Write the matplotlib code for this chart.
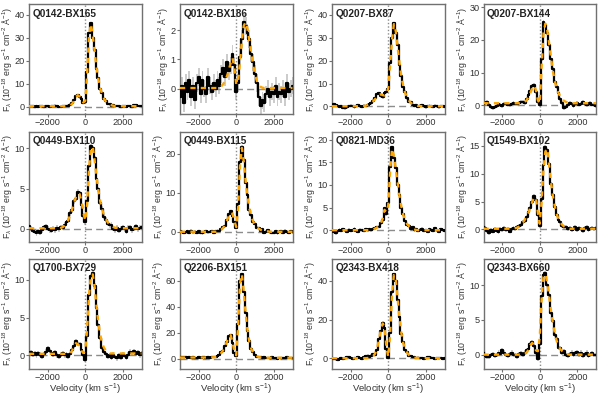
import matplotlib
matplotlib.use("Agg")
import matplotlib.pyplot as plt
import numpy as np

plt.rcParams['font.family'] = ['Liberation Sans', 'DejaVu Sans']
plt.rcParams['mathtext.fontset'] = 'custom'
plt.rcParams['mathtext.rm'] = 'Liberation Sans'
plt.rcParams['mathtext.it'] = 'Liberation Sans:italic'
plt.rcParams['mathtext.bf'] = 'Liberation Sans:bold'

# velocity grid (km/s)
velocity = list(range(-3000, 3001, 100))

names = ["Q0142-BX165", "Q0142-BX186", "Q0207-BX87", "Q0207-BX144",
         "Q0449-BX110", "Q0449-BX115", "Q0821-MD36", "Q1549-BX102",
         "Q1700-BX729", "Q2206-BX151", "Q2343-BX418", "Q2343-BX660"]

# observed flux (1e-18 erg/s/cm2/A)
flux_BX165 = [0.3, 0.1, 0.4, 0.0, 0.2, -0.1, 0.3, 0.1, 0.0, 0.4,
              0.2, -0.2, 0.1, 0.3, 0.5, 0.2, 0.0, -0.1, 0.3, 0.1,
              0.2, 0.5, 0.9, 1.5, 2.8, 4.5, 5.0, 4.0, 3.2, 1.5,
              2.0, 15, 32, 36.5, 30, 24.5, 16.5, 12.5, 7.5, 5.8,
              3.2, 2.5, 1.2, 1.0, 0.4, 0.6, 0.1, 0.4, 0.2, 0.0,
              0.3, 0.1, -0.1, 0.2, 0.4, 0.0, 0.6, 0.8, 0.2, 0.1, 0.3]
flux_BX186 = [-0.3, 0.1, -0.5, 0.2, -0.1, 0.3, -0.3, 0.1, -0.4, 0.2,
              0.4, -0.2, 0.3, 0.0, -0.2, 0.4, 0.1, -0.1, 0.2, 0.0,
              0.3, 0.1, 0.5, 0.7, 0.4, 0.9, 0.6, 0.8, 1.2, 0.8,
              -0.1, 0.2, 1.1, 1.7, 2.3, 2.15, 1.9, 1.7, 1.2, 0.9,
              0.5, 0.2, -0.3, -0.6, -0.4, -0.5, -0.2, 0.0, -0.3, -0.1,
              -0.2, 0.1, -0.3, -0.1, -0.2, 0.0, -0.3, 0.2, -0.1, 0.0, 0.1]
flux_BX87 = [0.4, 1.0, 0.5, 0.1, -0.2, 0.0, -0.5, -0.8, -0.3, 0.2,
             0.4, 0.1, -0.3, 0.2, 0.5, 0.0, -0.2, 0.3, 0.2, 0.8,
             1.2, 1.4, 2.6, 3.5, 5.5, 5.8, 4.5, 4.0, 5.8, 6.2,
             7.5, 19, 30, 36.5, 32, 27, 18, 13.5, 8.5, 6.5,
             3.5, 2.0, 1.8, 0.6, 0.2, 0.5, -0.2, 0.3, 0.5, 0.0,
             -0.3, 0.2, 0.4, 0.0, -0.2, 0.3, 0.1, -0.3, 0.2, 0.0, -0.1]
flux_BX144 = [0.5, 0.8, 1.0, 0.2, -0.5, -0.9, -0.6, -0.2, 0.3, 0.1,
              -0.2, 0.3, 0.5, 0.2, 0.0, 0.4, 0.8, 0.5, 0.3, 0.6,
              0.9, 1.0, 0.6, 1.8, 3.0, 4.2, 5.8, 6.2, 4.0, 1.0,
              0.0, 14, 25.5, 24.5, 22, 18.5, 14, 11, 7, 5.5,
              3.8, 2.0, 0.8, -0.8, -0.6, 0.2, 0.8, 0.4, -0.2, 0.3,
              0.6, 0.2, 0.5, 0.9, 0.3, 0.0, 0.4, 0.7, 0.2, 0.1, -0.4]
flux_BX110 = [0.3, 0.0, -0.3, -0.4, -0.6, -0.3, -0.5, -0.2, 0.2, 0.3,
              0.0, -0.2, -0.3, 0.0, -0.2, 0.1, -0.1, 0.2, 0.1, 0.5,
              0.8, 1.0, 1.9, 2.3, 3.4, 3.7, 4.6, 4.4, 3.0, 1.6,
              0.8, 3.5, 7.8, 10.3, 10.0, 8.8, 6.2, 4.9, 3.2, 2.5,
              1.5, 1.1, 0.6, 0.4, 0.5, 0.0, -0.2, 0.1, -0.3, 0.0,
              0.2, -0.1, -0.4, 0.1, 0.2, -0.2, 0.0, 0.3, -0.1, 0.1, 0.2]
flux_BX115 = [0.2, 0.0, -0.3, -0.1, 0.1, -0.2, 0.3, -0.1, 0.0, -0.3,
              0.1, -0.2, -0.4, -0.1, 0.2, -0.1, 0.0, 0.2, -0.2, 0.1,
              0.3, 0.1, 0.6, 1.2, 1.5, 3.0, 4.5, 5.2, 4.0, 2.5,
              1.0, 7, 18, 21.8, 18.5, 12.5, 9.5, 5.5, 4.2, 2.5,
              2.0, 1.0, 0.9, 0.3, 0.6, -0.2, 0.0, 0.4, -0.1, -0.3,
              -0.2, 0.2, -0.4, 0.0, 0.1, -0.2, 0.3, 0.0, -0.2, 0.1, -0.1]
flux_MD36 = [0.0, -0.4, -0.7, -0.2, 0.1, -0.1, 0.2, 0.0, -0.3, 0.1,
             -0.2, 0.0, 0.3, -0.1, -0.3, 0.1, 0.0, -0.2, 0.2, 0.0,
             0.2, 0.0, 0.3, 0.4, 0.7, 0.8, 1.5, 2.2, 4.8, 3.5,
             6.0, 14, 18.3, 16, 13.8, 10, 7.8, 5.0, 3.5, 2.0,
             1.2, 1.0, 0.3, 0.6, 0.0, 0.2, -0.2, 0.1, 0.3, -0.1,
             0.0, -0.3, 0.2, 0.1, -0.2, 0.4, 0.0, -0.3, 0.2, 0.0, -0.1]
flux_BX102 = [0.4, 0.2, -0.3, -0.6, -0.2, -0.4, 0.0, -0.3, -0.5, 0.1,
              -0.1, 0.2, -0.2, 0.0, -0.4, 0.1, 0.3, 0.0, 0.4, 0.6,
              0.7, 1.3, 1.5, 2.2, 3.2, 3.8, 5.0, 6.0, 5.2, 2.5,
              0.6, 5.5, 11.5, 14.8, 14.2, 11.8, 8.2, 6.2, 4.0, 2.6,
              1.6, 1.3, 0.6, 0.4, 0.5, 0.0, 0.3, -0.2, 0.1, 0.4,
              -0.1, 0.3, 0.0, -0.3, 0.2, 0.5, -0.2, 0.1, 0.3, 0.0, 0.2]
flux_BX729 = [0.2, 0.4, 0.1, 0.3, 0.0, 0.3, 0.1, -0.2, 0.2, 0.5,
              1.0, 0.6, 0.3, 0.1, 0.4, 0.0, -0.2, 0.1, 0.3, 0.0,
              0.2, -0.2, 0.2, 0.7, 1.3, 1.9, 1.5, 1.5, 0.7, 0.1,
              -0.6, 2.5, 8.0, 10.5, 10.9, 9.2, 6.3, 4.0, 2.3, 1.0,
              0.5, 0.2, -0.2, 0.0, -0.3, 0.1, -0.2, -0.4, 0.0, -0.3,
              0.2, -0.1, -0.3, 0.1, 0.5, 0.3, 0.6, 0.2, 0.4, 0.0, 0.3]
flux_BX151 = [1.5, 1.2, 0.8, 1.0, 0.5, 0.9, 0.6, 1.1, 0.7, 0.4,
              0.8, 0.6, 1.2, 0.9, 0.5, 1.4, 0.7, 0.9, 1.2, 1.0,
              2.0, 2.5, 4.8, 6.0, 10, 12.5, 17, 18.5, 12, 4,
              2.0, 27, 60, 65.5, 51, 35, 21, 13.5, 7, 4.8,
              2.5, 1.5, 1.4, 0.8, 0.5, 0.9, 0.3, 0.7, 0.4, 0.8,
              0.5, 0.2, -0.5, 0.3, 0.6, 0.2, 0.4, 0.9, 0.5, 0.3, 0.6]
flux_BX418 = [0.0, -0.3, -0.5, -0.8, -0.2, 0.1, -0.4, 0.0, 0.5, 0.8,
              0.3, -0.2, 0.0, 0.2, 0.8, 0.1, -0.3, 0.5, 1.2, 1.5,
              0.8, 1.5, 2.2, 2.0, 4.5, 10, 14, 18.5, 15.5, 5.0,
              0.3, 13, 34, 43.5, 40, 30, 21.5, 12.5, 8.5, 4.5,
              3.2, 1.5, 1.2, 0.5, 0.6, 0.2, 0.4, 0.0, 0.2, -0.2,
              0.3, 0.5, 0.8, 0.4, 0.1, -0.2, 0.3, 0.0, 0.2, -0.1, 0.1]
flux_BX660 = [0.2, -0.2, -0.3, -0.4, -0.1, 0.1, -0.2, 0.0, 0.3, 0.1,
              0.6, 0.3, 0.0, -0.2, 0.1, 0.3, -0.1, 0.0, -0.3, 0.1,
              0.2, -0.1, 0.3, 0.6, 0.8, 1.5, 1.8, 1.2, 0.2, -0.6,
              1.5, 8.5, 11.5, 11.8, 10.0, 8.6, 6.0, 4.8, 2.8, 2.2,
              1.0, 0.9, 0.3, 0.5, 0.0, -0.2, 0.1, 0.3, -0.1, 0.2,
              0.4, 0.0, 0.3, -0.2, 0.1, 0.3, -0.2, 0.0, 0.2, -0.1, 0.0]

# best-fit model flux
model_BX165 = [0.2] * 18 + [0.2, 0.25] + \
              [0.3, 0.4, 0.6, 1.2, 2.5, 4.2, 5.0, 4.3, 3.0, 1.8,
               2.5, 14, 31, 36, 31, 24, 17, 12, 8, 5.5,
               3.5, 2.2, 1.4, 0.9, 0.6, 0.4, 0.3, 0.25, 0.2, 0.2] + [0.2] * 11
model_BX186 = [0.02] * 20 + \
              [0.02, 0.04, 0.08, 0.15, 0.26, 0.42, 0.62, 0.88, 1.05, 0.7,
               0.15, 0.25, 0.9, 1.65, 2.15, 2.28, 2.05, 1.65, 1.2, 0.8,
               0.48, 0.26, 0.13, 0.06, 0.03, 0.02, 0.02, 0.02, 0.02, 0.02] + [0.02] * 11
model_BX87 = [0.1] * 17 + [0.2, 0.3, 0.6] + \
             [1.0, 1.6, 2.3, 3.2, 4.2, 5.0, 5.3, 5.0, 4.8, 5.5,
              8, 18, 29, 36, 33, 26, 19, 13, 9, 6,
              4, 2.6, 1.6, 1.0, 0.6, 0.4, 0.2, 0.2, 0.1, 0.1] + [0.1] * 11
model_BX144 = [0.6] * 20 + \
              [0.7, 0.8, 1.0, 1.5, 2.5, 3.8, 5.3, 6.0, 4.5, 1.5,
               0.5, 12, 22, 25, 23, 19, 14.5, 10.5, 7.5, 5.3,
               3.7, 2.6, 1.8, 1.3, 1.0, 0.8, 0.7, 0.6, 0.6, 0.6] + [0.6] * 11
model_BX110 = [0.05] * 17 + [0.1, 0.2, 0.4] + \
              [0.7, 1.1, 1.7, 2.4, 3.2, 3.9, 4.4, 4.3, 3.4, 2.0,
               1.0, 3.0, 7.5, 10.0, 10.2, 8.5, 6.5, 4.8, 3.4, 2.4,
               1.7, 1.2, 0.8, 0.5, 0.35, 0.2, 0.1, 0.1, 0.05, 0.05] + [0.05] * 11
model_BX115 = [0.0] * 20 + \
              [0.1, 0.2, 0.5, 1.0, 1.7, 2.8, 4.0, 4.9, 4.6, 2.8,
               1.2, 6, 17, 21.5, 18, 13, 9, 6, 4, 2.7,
               1.8, 1.2, 0.8, 0.5, 0.3, 0.2, 0.1, 0.1, 0.0, 0.0] + [0.0] * 11
model_MD36 = [0.0] * 20 + \
             [0.05, 0.1, 0.2, 0.35, 0.6, 0.9, 1.4, 2.5, 4.5, 4.0,
              5.5, 13, 18, 16.5, 13.5, 10.5, 7.5, 5.2, 3.4, 2.2,
              1.4, 0.9, 0.5, 0.3, 0.15, 0.05, 0.0, 0.0, 0.0, 0.0] + [0.0] * 11
model_BX102 = [0.1] * 17 + [0.2, 0.3, 0.5] + \
              [0.8, 1.2, 1.7, 2.3, 3.0, 3.9, 4.9, 5.8, 5.5, 3.0,
               1.0, 5.0, 11, 14, 14.5, 11.5, 8.5, 6, 4.2, 2.8,
               1.8, 1.2, 0.8, 0.5, 0.3, 0.2, 0.1, 0.1, 0.1, 0.1] + [0.1] * 11
model_BX729 = [0.2] * 20 + \
              [0.2, 0.2, 0.3, 0.6, 1.2, 1.6, 1.5, 1.2, 0.6, 0.3,
               0.6, 3.5, 8.0, 10.5, 10.7, 9.0, 6.5, 4.3, 2.7, 1.6,
               1.0, 0.6, 0.4, 0.25, 0.25, 0.25, 0.25, 0.25, 0.25, 0.25] + [0.25] * 11
model_BX151 = [0.8] * 17 + [0.9, 1.0, 1.3] + \
              [1.8, 2.8, 4.3, 6.5, 9.5, 13, 16.5, 18, 13, 5,
               2.5, 25, 58, 65, 52, 35, 22, 13, 7.5, 4.5,
               2.8, 1.8, 1.2, 0.9, 0.7, 0.7, 0.6, 0.6, 0.6, 0.6] + [0.6] * 11
model_BX418 = [0.1] * 19 + [0.2] + \
              [0.3, 0.6, 1.2, 2.5, 5.0, 9.5, 14.5, 18.0, 16.5, 6.0,
               0.8, 12, 33, 43, 41, 31, 21, 13, 8, 4.8,
               3.0, 1.8, 1.1, 0.7, 0.4, 0.3, 0.2, 0.1, 0.1, 0.1] + [0.1] * 11
model_BX660 = [0.0] * 20 + \
              [0.0, 0.05, 0.1, 0.3, 0.7, 1.4, 1.7, 1.3, 0.6, 0.5,
               2.5, 8.0, 11.2, 11.6, 10.3, 8.4, 6.3, 4.5, 3.1, 2.0,
               1.3, 0.8, 0.5, 0.3, 0.15, 0.05, 0.0, 0.0, 0.0, 0.0] + [0.0] * 11

fluxes = [flux_BX165, flux_BX186, flux_BX87, flux_BX144, flux_BX110, flux_BX115,
          flux_MD36, flux_BX102, flux_BX729, flux_BX151, flux_BX418, flux_BX660]
models = [model_BX165, model_BX186, model_BX87, model_BX144, model_BX110, model_BX115,
          model_MD36, model_BX102, model_BX729, model_BX151, model_BX418, model_BX660]
# typical 1-sigma flux uncertainty per object
errors = [0.5, 0.3, 0.6, 0.6, 0.3, 0.35, 0.3, 0.35, 0.3, 0.8, 0.6, 0.3]

ylims = [(-3.2, 44.7), (-0.87, 2.9), (-3.3, 44.8), (-2.7, 31.0),
         (-1.6, 12.1), (-2.5, 25.7), (-2.5, 21.8), (-2.2, 17.6),
         (-1.74, 12.8), (-7.7, 77.2), (-5.2, 51.5), (-2.0, 13.85)]
yticks = [[0, 10, 20, 30, 40], [0, 1, 2], [0, 10, 20, 30, 40], [0, 10, 20, 30],
          [0, 5, 10], [0, 10, 20], [0, 5, 10, 15, 20], [0, 5, 10, 15],
          [0, 5, 10], [0, 20, 40, 60], [0, 20, 40], [0, 5, 10]]

W, H = 598, 396
fig = plt.figure(figsize=(W / 100, H / 100), dpi=100)

lefts = [29, 180, 332, 483.5]
tops = [4, 131.5, 258.5]
aw, ah = 112.5, 110

frame_col = '#707070'
tick_col = '#333333'
v = np.array(velocity)
for i in range(12):
    r, c = divmod(i, 4)
    ax = fig.add_axes([lefts[c] / W, 1 - (tops[r] + ah) / H, aw / W, ah / H])
    f = np.array(fluxes[i])
    e = errors[i]
    ax.fill_between(v, f - e, f + e, step='mid', color='#cccccc', lw=0, zorder=1)
    ax.axhline(0, color='#8c8c8c', lw=1.0, dashes=(5, 3), zorder=2)
    ax.axvline(0, color='#8c8c8c', lw=1.0, ls=(0, (1, 1.5)), zorder=2)
    ax.plot(v, f, color='black', lw=1.6, drawstyle='steps-mid', zorder=3)
    ax.plot(v, models[i], color='#FFA500', lw=1.7, dashes=(2.2, 2.2), zorder=4)
    ax.set_xlim(-3000, 3000)
    ax.set_ylim(*ylims[i])
    ax.set_xticks([-2000, 0, 2000])
    ax.set_yticks(yticks[i])
    ax.tick_params(labelsize=6.6, colors=frame_col, labelcolor=tick_col,
                   length=2.0, width=0.8, pad=1.0)
    for s in ax.spines.values():
        s.set_color(frame_col)
        s.set_linewidth(1.0)
    ax.text(0.03, 0.955, names[i], transform=ax.transAxes, ha='left', va='top',
            fontsize=7.2, fontweight='bold', color='#222222', zorder=6)
    ax.set_ylabel(r'F$_\lambda$ (10$^{-18}$ erg s$^{-1}$ cm$^{-2}$ Å$^{-1}$)',
                  fontsize=6.3, color=tick_col, labelpad=0.3)
    if r == 2:
        ax.set_xlabel(r'Velocity (km s$^{-1}$)', fontsize=6.8, color=tick_col, labelpad=0.2)

fig.savefig('out.png', dpi=100)
